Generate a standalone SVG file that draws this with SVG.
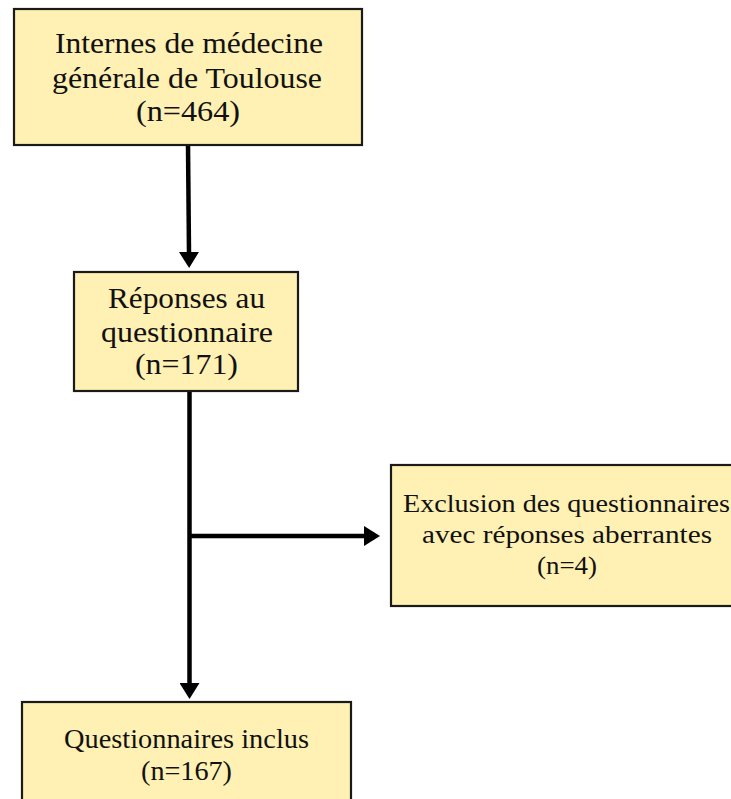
<svg xmlns="http://www.w3.org/2000/svg" width="731" height="799" viewBox="0 0 731 799">
<defs>
<style>
.box{fill:#FFF0B3;stroke:#1a1a1a;stroke-width:2.2}
.t{font-family:"Liberation Serif","Times New Roman",serif;fill:#111;text-anchor:middle}
.big{font-size:29.5px}
.mid{font-size:26px}
.sm{font-size:27px}
.c{stroke:#000;stroke-width:4.5;fill:none}
</style>
<marker id="ah" markerUnits="userSpaceOnUse" markerWidth="16" markerHeight="20" viewBox="0 0 16 20" refX="1" refY="10" orient="auto">
<path d="M0,0 L16,10 L0,20 Z" fill="#000"/>
</marker>
</defs>
<rect width="731" height="799" fill="#fff"/>
<g id="connectors">
<path class="c" d="M188,145 L189,253" marker-end="url(#ah)"/>
<path class="c" d="M189.5,391 L189.5,684" marker-end="url(#ah)"/>
<path class="c" d="M189.5,536 L365,536" marker-end="url(#ah)"/>
</g>
<g id="n1">
<rect class="box" x="14" y="9" width="348" height="136"/>
<text class="t big" x="189" y="53" textLength="268" lengthAdjust="spacingAndGlyphs">Internes de médecine</text>
<text class="t big" x="187" y="87.5" textLength="270" lengthAdjust="spacingAndGlyphs">générale de Toulouse</text>
<text class="t big" x="188" y="121" textLength="104" lengthAdjust="spacingAndGlyphs">(n=464)</text>
</g>
<g id="n2">
<rect class="box" x="74" y="272" width="224" height="119"/>
<text class="t big" x="186.5" y="308" textLength="157" lengthAdjust="spacingAndGlyphs">Réponses au</text>
<text class="t big" x="187" y="342" textLength="172" lengthAdjust="spacingAndGlyphs">questionnaire</text>
<text class="t big" x="186.5" y="374" textLength="103" lengthAdjust="spacingAndGlyphs">(n=171)</text>
</g>
<g id="n3">
<rect class="box" x="391" y="465" width="350" height="141"/>
<text class="t mid" x="566.5" y="512" textLength="327" lengthAdjust="spacingAndGlyphs">Exclusion des questionnaires</text>
<text class="t mid" x="567" y="543" textLength="290" lengthAdjust="spacingAndGlyphs">avec réponses aberrantes</text>
<text class="t mid" x="567" y="574" textLength="60" lengthAdjust="spacingAndGlyphs">(n=4)</text>
</g>
<g id="n4">
<rect class="box" x="22" y="702" width="329" height="110"/>
<text class="t sm" x="186.5" y="748" textLength="245" lengthAdjust="spacingAndGlyphs">Questionnaires inclus</text>
<text class="t sm" x="186.5" y="780" textLength="91" lengthAdjust="spacingAndGlyphs">(n=167)</text>
</g>
</svg>
